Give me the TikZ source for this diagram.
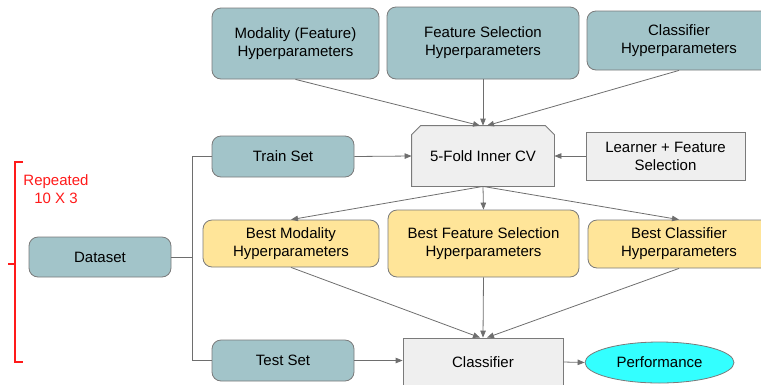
\documentclass[tikz,border=0pt]{standalone}
\usepackage{fontspec}
\setmainfont{Liberation Sans}
\usetikzlibrary{arrows.meta,shapes.geometric}

\definecolor{tealbox}{HTML}{A2C4C9}
\definecolor{yellowbox}{HTML}{FFE599}
\definecolor{greybox}{HTML}{EFEFEF}
\definecolor{perfcyan}{HTML}{33FFFF}
\definecolor{edgegrey}{HTML}{6E6E6E}
\definecolor{bordergrey}{HTML}{7A7A7A}
\definecolor{bracketred}{HTML}{FF1A1A}

\pgfdeclarelayer{background}
\pgfsetlayers{background,main}

\tikzset{
  base/.style={draw=bordergrey, line width=0.8pt, align=center, inner sep=2pt,
    font=\fontsize{15}{18}\selectfont, text=black},
  hpbox/.style={base, fill=tealbox, rounded corners=9pt},
  bestbox/.style={base, fill=yellowbox, rounded corners=9pt},
  greyrect/.style={base, fill=greybox},
  cvtext/.style={base, draw=none},
  cvshape/.style={draw=bordergrey, fill=greybox, line width=0.8pt},
  perfbox/.style={base, fill=perfcyan, ellipse},
  flow/.style={draw=edgegrey, line width=0.8pt,
    -{Triangle[length=7pt,width=5.5pt]}},
  plain/.style={draw=edgegrey, line width=0.8pt},
  bracket/.style={draw=bracketred, line width=1.6pt}
}

\begin{document}
\begin{tikzpicture}[x=1pt,y=-1pt]
  \clip (0,0) rectangle (761,384);

  % hyperparameter sources
  \node[hpbox, minimum width=167pt, minimum height=71pt] (mod) at (295.5,43.5)
    {Modality (Feature)\\Hyperparameters};
  \node[hpbox, minimum width=192pt, minimum height=72pt] (fs) at (483,43)
    {Feature Selection\\Hyperparameters};
  \node[hpbox, minimum width=184pt, minimum height=59pt] (clfhp) at (679,40.5)
    {Classifier\\Hyperparameters};

  % inner cross-validation: box with the two upper corners snipped
  \node[cvtext, minimum width=142pt, minimum height=60pt] (cv) at (483,156)
    {5-Fold Inner CV};
  \begin{pgfonlayer}{background}
    \path[cvshape] (cv.south west) -- ([yshift=-9pt]cv.north west)
      -- ([xshift=9pt]cv.north west) -- ([xshift=-9pt]cv.north east)
      -- ([yshift=-9pt]cv.north east) -- (cv.south east) -- cycle;
  \end{pgfonlayer}
  \node[greyrect, minimum width=159pt, minimum height=48pt] (learner) at (665.5,156)
    {Learner + Feature\\Selection};

  % data split
  \node[hpbox, minimum width=142pt, minimum height=40pt] (ds) at (100,257) {Dataset};
  \node[hpbox, minimum width=142pt, minimum height=41pt] (train) at (283,156.5) {Train Set};
  \node[hpbox, minimum width=142pt, minimum height=41pt] (test) at (283,360.5) {Test Set};

  % selected hyperparameters
  \node[bestbox, minimum width=176pt, minimum height=47pt] (bmod) at (291,243.5)
    {Best Modality\\Hyperparameters};
  \node[bestbox, minimum width=191pt, minimum height=67pt] (bfs) at (483.5,243.5)
    {Best Feature Selection\\Hyperparameters};
  \node[bestbox, minimum width=182pt, minimum height=48pt] (bclf) at (679,244)
    {Best Classifier\\Hyperparameters};

  % final model and result
  \node[greyrect, minimum width=160pt, minimum height=48pt] (clf) at (483,362) {Classifier};
  \node[perfbox, minimum width=149pt, minimum height=41pt, inner sep=0pt] (perf) at (659.5,362.5)
    {Performance};

  % split of the dataset into train and test
  \coordinate (split) at (192,257);
  \draw[plain] (ds.east) -- (split);
  \draw[plain] (train.west) -- (train.west -| split) -- (test.west -| split) -- (test.west);

  % flows into the inner CV
  \draw[flow] (mod.south) -- ([xshift=-3pt]cv.north);
  \draw[flow] (fs.south) -- (cv.north);
  \draw[flow] (clfhp.south) -- ([xshift=4pt]cv.north);
  \draw[flow] (train.east) -- (cv.west);
  \draw[flow] (learner.west) -- (cv.east);

  % flows out of the inner CV
  \draw[flow] (cv.south) -- (bmod.north);
  \draw[flow] (cv.south) -- (bfs.north);
  \draw[flow] (cv.south) -- (bclf.north);

  % flows into the final classifier
  \draw[flow] (bmod.south) -- ([xshift=-3pt]clf.north);
  \draw[flow] (bfs.south) -- (clf.north);
  \draw[flow] (bclf.south) -- ([xshift=4pt]clf.north);
  \draw[flow] (test.east) -- (clf.west |- test.east);
  \draw[flow] (clf.east) -- (perf.west);

  % repetition bracket
  \draw[bracket] (23,162) -- (15,162) -- (15,362) -- (23,362);
  \draw[bracket] (8,264) -- (15,264);
  \node[font=\fontsize{15}{18}\selectfont, text=bracketred, align=center] (rep) at (56,189)
    {Repeated\\10 X 3};
\end{tikzpicture}
\end{document}
